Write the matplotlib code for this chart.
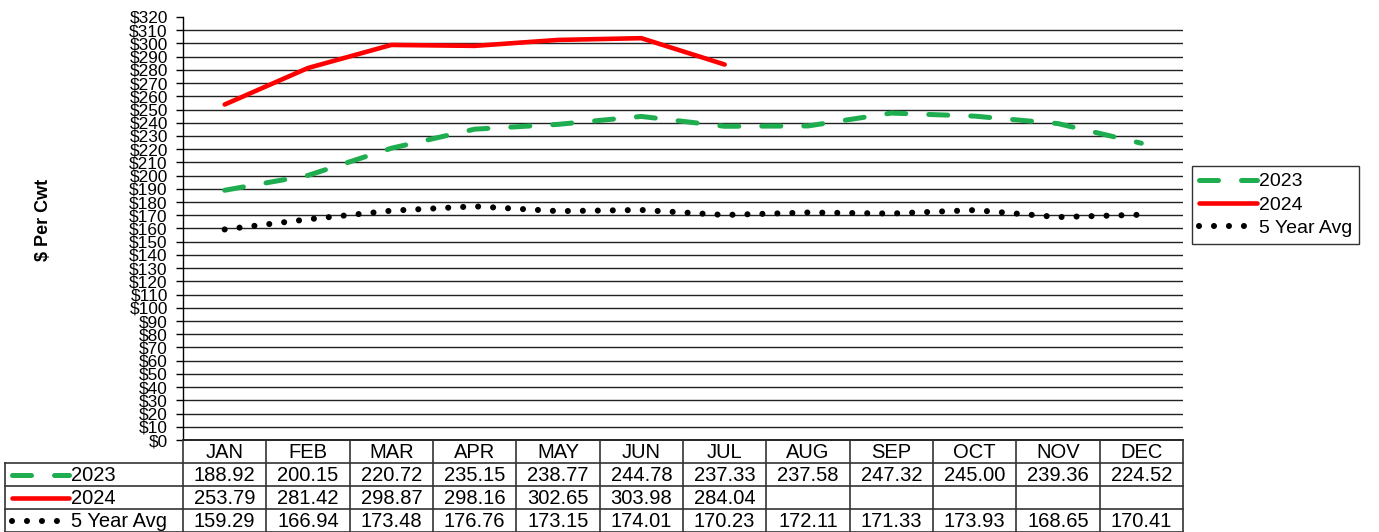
import matplotlib.pyplot as plt
import numpy as np

plt.rcParams['font.family'] = ['Liberation Sans', 'DejaVu Sans']

months = ['JAN', 'FEB', 'MAR', 'APR', 'MAY', 'JUN', 'JUL', 'AUG', 'SEP', 'OCT', 'NOV', 'DEC']
y2023 = [188.92, 200.15, 220.72, 235.15, 238.77, 244.78, 237.33, 237.58, 247.32, 245.00, 239.36, 224.52]
y2024 = [253.79, 281.42, 298.87, 298.16, 302.65, 303.98, 284.04]
avg5 = [159.29, 166.94, 173.48, 176.76, 173.15, 174.01, 170.23, 172.11, 171.33, 173.93, 168.65, 170.41]
series_names = ['2023', '2024', '5 Year Avg']

W, H = 1379, 532
fig = plt.figure(figsize=(W / 100, H / 100), dpi=100)

# plot area in pixels
x0, x1 = 183, 1183
ytop, ybot = 17, 440
ax = fig.add_axes([x0 / W, (H - ybot) / H, (x1 - x0) / W, (ybot - ytop) / H])

green = '#1fae4f'
red = '#ff0000'
sty = {
    '2023': dict(color=green, lw=3.6, ls=(0, (3.8, 4.6)), dash_capstyle='round'),
    '2024': dict(color=red, lw=3.3, ls='-', solid_capstyle='round'),
    '5 Year Avg': dict(color='black', lw=4.4, ls=(0, (0.001, 2.45)), dash_capstyle='round'),
}

xm = np.arange(12) + 0.5
for name, vals in zip(series_names, [y2023, y2024, avg5]):
    ax.plot(xm[:len(vals)], vals, label=name, **sty[name], zorder=3)

ax.set_xlim(0, 12)
ax.set_ylim(0, 320)
yt = np.arange(0, 330, 10)
ax.set_yticks(yt)
ax.set_yticklabels(['$' + str(v) for v in yt], fontsize=12.4)
ax.tick_params(axis='y', length=5, width=1, pad=6, direction='out')
ax.set_xticks([])
for v in yt[1:-1]:
    ax.axhline(v, color='#222222', lw=1, zorder=1)
for s in ['top', 'right', 'bottom']:
    ax.spines[s].set_visible(False)
ax.spines['left'].set_linewidth(1)

fig.text(43 / W, 1 - 220 / H, '$ Per Cwt', rotation=90, fontsize=13, fontweight='bold',
         ha='center', va='center')

# legend box
leg = fig.legend(loc='upper left', bbox_to_anchor=(1192 / W, 1 - 166 / H), fontsize=14,
                 frameon=True, fancybox=False, edgecolor='black', handlelength=3.0,
                 handletextpad=0.1, borderpad=0.35, labelspacing=0.3, borderaxespad=0)
leg.get_frame().set_linewidth(1)

# data table under the chart
tax = fig.add_axes([x0 / W, 0, (x1 - x0) / W, 92 / H])
tax.set_xlim(0, 12)
tax.set_ylim(4, 0)
tax.axis('off')
colw = (x1 - x0) / 12
xl = (5 - x0) / colw
lc = '#333333'
tax.plot([0, 12], [0, 0], color='black', lw=1.2, clip_on=False)
for r in [1, 2, 3, 4]:
    tax.plot([xl, 12], [r, r], color=lc, lw=1.2, clip_on=False)
for k in range(13):
    tax.plot([k, k], [0, 4], color=lc, lw=1.2, clip_on=False)
tax.plot([xl, xl], [1, 4], color=lc, lw=1.2, clip_on=False)

fs = 14.5
for i, m in enumerate(months):
    tax.text(i + 0.5, 0.55, m, ha='center', va='center', fontsize=fs)
for r, (name, vals) in enumerate(zip(series_names, [y2023, y2024, avg5])):
    for i, v in enumerate(vals):
        tax.text(i + 0.5, r + 1.55, f'{v:.2f}', ha='center', va='center', fontsize=fs)
    sx0 = (12 - x0) / colw
    sx1 = (69 - x0) / colw
    tax.plot([sx0, sx1], [r + 1.5, r + 1.5], clip_on=False, **sty[name])
    tax.text((71 - x0) / colw, r + 1.55, name, ha='left', va='center', fontsize=fs)

fig.savefig('out.png', dpi=100)
